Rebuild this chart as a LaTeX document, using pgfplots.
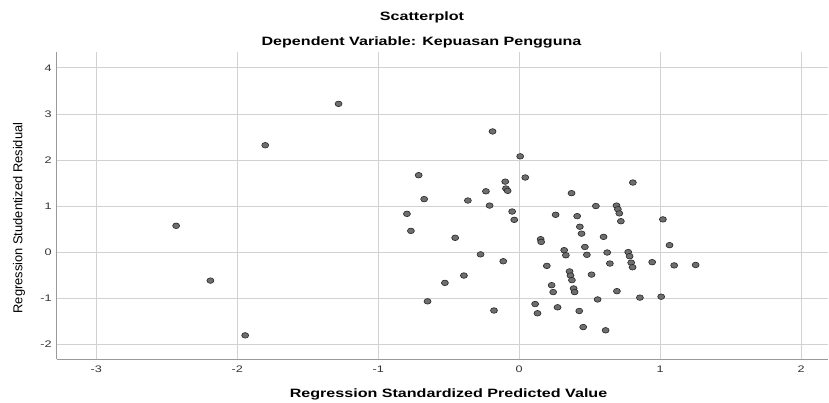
\documentclass[border=0pt]{standalone}
\usepackage{fontspec}
\setmainfont{Liberation Sans}[FakeStretch=1.33]
\newfontfamily\ylabfont{Liberation Sans}
\usepackage{pgfplots}
\pgfplotsset{compat=1.18}
\definecolor{gridgray}{HTML}{D2D2D2}
\definecolor{axgray}{HTML}{9A9A9A}
\definecolor{ptfill}{HTML}{6E6E6E}
\definecolor{ptdraw}{HTML}{262626}
\begin{document}
\begin{tikzpicture}[x=1pt,y=1pt]
\path[use as bounding box] (0,0) rectangle (829,403);
\begin{axis}[
    at={(56.7pt,43.7pt)}, anchor=south west,
    scale only axis, width=771.3pt, height=307pt,
    xmin=-3.28, xmax=2.19, ymin=-2.33, ymax=4.34,
    xtick={-3,-2,-1,0,1,2}, ytick={-2,-1,0,1,2,3,4},
    grid=major, grid style={gridgray, line width=0.9pt},
    axis x line*=bottom, axis y line*=left,
    axis line style={axgray, line width=1.3pt, -},
    major tick length=0pt,
    /pgf/number format/assume math mode=true,
    tick label style={font=\fontsize{9.5}{11}\selectfont, text=black!80},
    xticklabel style={yshift=-3.5pt},
    yticklabel style={xshift=-1.5pt},
    xlabel={Regression Standardized Predicted Value},
    xlabel style={at={(axis description cs:0.508,-0.126)}, anchor=base,
        font=\bfseries\fontsize{12.1}{14}\selectfont},
    ylabel={Regression Studentized Residual},
    ylabel style={at={(axis description cs:-0.0489,0.46)}, anchor=center,
        font=\ylabfont\fontsize{12.9}{14}\selectfont},
    ]
    \addplot[only marks, mark=*, mark size=2.8pt,
        mark options={xscale=1.25, fill=ptfill, draw=ptdraw, line width=0.6pt}]
    table {
x y
-2.433 0.57
-2.19 -0.62
-1.943 -1.81
-1.801 2.32
-1.281 3.22
-0.796 0.83
-0.768 0.46
-0.713 1.67
-0.674 1.15
-0.65 -1.07
-0.527 -0.67
-0.454 0.31
-0.392 -0.51
-0.364 1.12
-0.274 -0.05
-0.236 1.32
-0.21 1.01
-0.189 2.62
-0.179 -1.27
-0.113 -0.20
-0.099 1.53
-0.094 1.38
-0.082 1.33
-0.05 0.88
-0.035 0.70
0.007 2.08
0.043 1.62
0.113 -1.13
0.13 -1.33
0.152 0.28
0.156 0.22
0.196 -0.30
0.23 -0.72
0.241 -0.87
0.258 0.81
0.272 -1.20
0.319 0.04
0.331 -0.07
0.357 -0.42
0.364 -0.51
0.371 1.28
0.374 -0.61
0.386 -0.79
0.393 -0.87
0.411 0.78
0.426 -1.28
0.43 0.55
0.442 0.40
0.454 -1.63
0.466 0.11
0.48 -0.06
0.513 -0.49
0.544 1.00
0.556 -1.03
0.598 0.33
0.613 -1.70
0.624 -0.01
0.643 -0.25
0.69 1.01
0.693 -0.85
0.70 0.93
0.71 0.84
0.721 0.67
0.773 0.00
0.783 -0.09
0.794 -0.23
0.804 -0.33
0.806 1.51
0.856 -0.99
0.943 -0.22
1.007 -0.97
1.019 0.71
1.066 0.15
1.099 -0.29
1.251 -0.28
    };
\end{axis}
\node[anchor=base, font=\bfseries\fontsize{12.1}{14}\selectfont] at (422,382.3) {Scatterplot};
\node[anchor=base, font=\bfseries\fontsize{12.1}{14}\selectfont] at (421.5,357) {Dependent Variable: Kepuasan Pengguna};
\end{tikzpicture}
\end{document}
